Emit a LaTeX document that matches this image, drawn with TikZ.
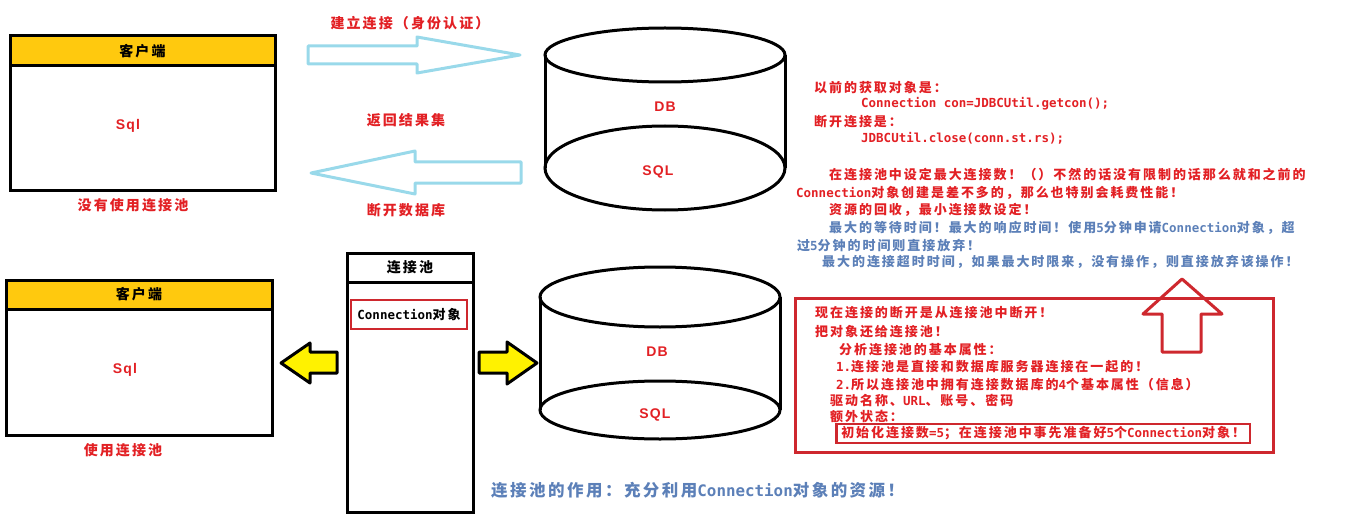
\documentclass[tikz,border=0pt]{standalone}
\usepackage{fontspec}
\setmainfont{Noto Sans CJK SC}[LetterSpace=15]
\newfontfamily\codefont{DejaVu Sans Mono}[Scale=0.96]
\newfontfamily\dbfont{Liberation Sans}[LetterSpace=8]
\usepackage{tikz}
\usetikzlibrary{positioning}
\definecolor{hdryellow}{RGB}{255,201,14}
\definecolor{arryellow}{RGB}{255,242,0}
\definecolor{arrblue}{RGB}{153,217,234}
\definecolor{txtred}{RGB}{226,32,36}
\definecolor{txtblue}{RGB}{92,128,184}
\definecolor{boxred}{RGB}{206,40,46}
\newcommand{\mcode}[1]{{\codefont #1}}
\tikzset{
  hdr/.style={draw, line width=3pt, fill=hdryellow, anchor=north west, inner sep=0pt, outer sep=0pt, font=\bfseries\fontsize{14}{16}\selectfont},
  bodybox/.style={draw, line width=3pt, anchor=north west, inner sep=0pt, outer sep=0pt},
  redtxt/.style={text=txtred, anchor=west, inner sep=0pt, font=\bfseries\fontsize{13}{15}\selectfont},
  bluetxt/.style={redtxt, text=txtblue},
  lab/.style={text=txtred, inner sep=0pt, font=\bfseries\fontsize{14}{16}\selectfont},
  dbtxt/.style={text=txtred, inner sep=0pt, font=\dbfont\bfseries\fontsize{14}{16}\selectfont},
  barrow/.style={draw=arrblue, line width=3pt, line join=round},
  yarrow/.style={draw=black, fill=arryellow, line width=3pt, line join=round},
  rarrow/.style={draw=boxred, line width=3pt, line join=round},
  cyl/.style={draw, line width=3pt},
  rbox/.style={draw=boxred, line width=3pt, inner sep=0pt, outer sep=0pt},
}
\begin{document}
\begin{tikzpicture}[x=1pt, y=-1pt]
\useasboundingbox (0,0) rectangle (1360,524);
% without pool
\node[hdr, minimum width=265, minimum height=30] (cli1h) at (10,36) {客户端};
\node[bodybox, minimum width=265, minimum height=124, below=0pt of cli1h] (cli1b) {};
\node[dbtxt] (sql1) at (128,126) {Sql};
\node[lab] (nopool) at (133,205) {没有使用连接池};
\draw[barrow] (308,46) -- (417,46) -- (417,37) -- (520,55) -- (417,73) -- (417,64) -- (308,64) -- cycle;
\draw[barrow] (311,173) -- (415,151) -- (415,162) -- (521,162) -- (521,183) -- (415,183) -- (415,194) -- cycle;
\node[lab] (conn) at (410,23) {建立连接（身份认证）};
\node[lab] (ret) at (406,120) {返回结果集};
\node[lab] (disc) at (406,210) {断开数据库};
\draw[cyl] (665,55) ellipse [x radius=120, y radius=27];
\draw[cyl] (545,55) -- (545,168) (785,55) -- (785,168);
\draw[cyl] (665,168) ellipse [x radius=120, y radius=42];
\node[dbtxt] (db1) at (665,107) {DB};
\node[dbtxt] (sqldb1) at (658,172) {SQL};
% notes
\node[redtxt] (n1) at (814,88) {以前的获取对象是：};
\node[redtxt] (n2) at (861,104) {\mcode{Connection con=JDBCUtil.getcon();}};
\node[redtxt] (n3) at (814,122) {断开连接是：};
\node[redtxt] (n4) at (861,138) {\mcode{JDBCUtil.close(conn.st.rs);}};
\node[redtxt] (n5) at (829,175) {在连接池中设定最大连接数！（）不然的话没有限制的话那么就和之前的};
\node[redtxt] (n6) at (796,193) {\mcode{Connection}对象创建是差不多的，那么也特别会耗费性能！};
\node[redtxt] (n7) at (829,210) {资源的回收，最小连接数设定！};
\node[bluetxt] (n8) at (829,228) {最大的等待时间！最大的响应时间！使用\mcode{5}分钟申请\mcode{Connection}对象，超};
\node[bluetxt] (n9) at (797,245) {过\mcode{5}分钟的时间则直接放弃！};
\node[bluetxt] (n10) at (822,262) {最大的连接超时时间，如果最大时限来，没有操作，则直接放弃该操作！};
% with pool
\node[hdr, minimum width=266, minimum height=29] (cli2h) at (6,280) {客户端};
\node[bodybox, minimum width=266, minimum height=126, below=0pt of cli2h] (cli2b) {};
\node[dbtxt] (sql2) at (125,370) {Sql};
\node[lab] (withpool) at (123,450) {使用连接池};
\draw[yarrow] (281,363) -- (310,343) -- (310,352) -- (337,352) -- (337,373) -- (310,373) -- (310,383) -- cycle;
\node[hdr, fill=white, minimum width=126, minimum height=29] (poolh) at (347,253) {连接池};
\node[bodybox, minimum width=126, minimum height=230, below=0pt of poolh] (poolb) {};
\node[rbox, line width=2.5pt, minimum width=116, minimum height=29, font=\bfseries\fontsize{13}{15}\selectfont] (conobj) at (409,314.5) {\mcode{Connection}对象};
\draw[yarrow] (479,352) -- (507,352) -- (507,342) -- (537,363) -- (507,384) -- (507,373) -- (479,373) -- cycle;
\draw[cyl] (660,297) ellipse [x radius=120, y radius=30];
\draw[cyl] (540,297) -- (540,410) (780,297) -- (780,410);
\draw[cyl] (660,410) ellipse [x radius=120, y radius=29];
\node[dbtxt] (db2) at (657,352) {DB};
\node[dbtxt] (sqldb2) at (655,415) {SQL};
\node[bluetxt, font=\bfseries\fontsize{16.5}{19}\selectfont] (role) at (491,490) {连接池的作用：充分利用\mcode{Connection}对象的资源！};
% pool attributes
\node[rbox, anchor=north west, minimum width=478, minimum height=154] (attrbox) at (795,298) {};
\draw[rarrow] (1182,279) -- (1222,314) -- (1201,314) -- (1201,352) -- (1162,352) -- (1162,314) -- (1143,314) -- cycle;
\node[redtxt] (a1) at (815,313) {现在连接的断开是从连接池中断开！};
\node[redtxt] (a2) at (815,332) {把对象还给连接池！};
\node[redtxt] (a3) at (839,350) {分析连接池的基本属性：};
\node[redtxt] (a4) at (836,367) {\mcode{1.}连接池是直接和数据库服务器连接在一起的！};
\node[redtxt] (a5) at (836,385) {\mcode{2.}所以连接池中拥有连接数据库的\mcode{4}个基本属性（信息）};
\node[redtxt] (a6) at (830,400) {驱动名称、\mcode{URL}、账号、密码};
\node[redtxt] (a7) at (830,417) {额外状态：};
\node[redtxt, draw=boxred, line width=2.5pt, inner xsep=5pt, minimum height=19] (init) at (835,433.5) {初始化连接数\mcode{=5}；在连接池中事先准备好\mcode{5}个\mcode{Connection}对象！};
\end{tikzpicture}
\end{document}
